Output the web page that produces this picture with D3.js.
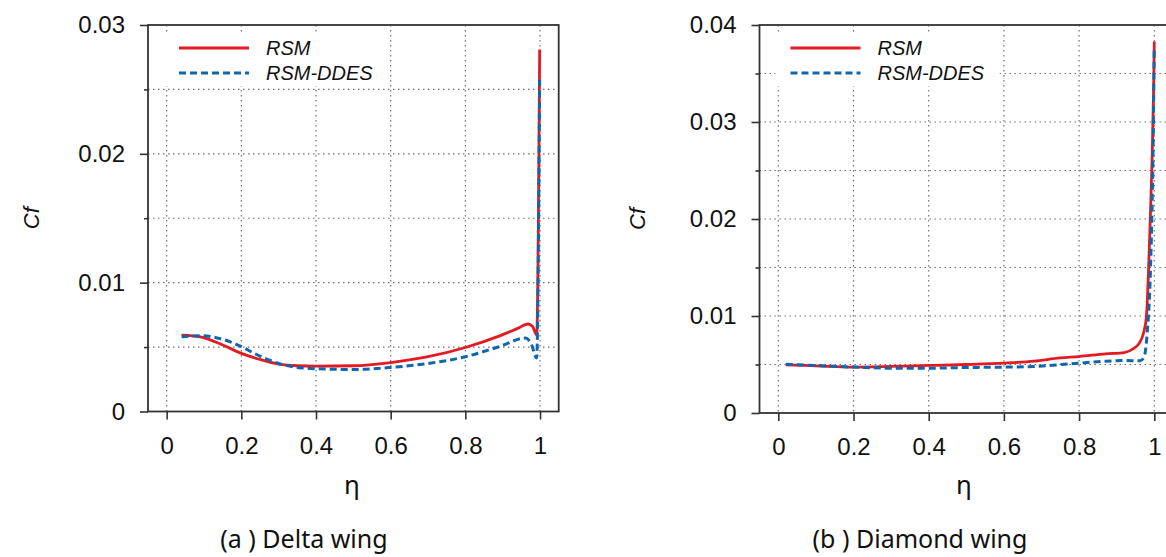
<!DOCTYPE html>
<html>
<head>
<meta charset="utf-8">
<script src="https://cdn.jsdelivr.net/npm/d3@7"></script>
<style>
  html, body { margin: 0; padding: 0; background: #fff; }
  svg { display: block; }
</style>
</head>
<body>
<svg id="chart" width="1166" height="557"></svg>
<script>
// ---------------- DATA ----------------
const seriesNames = ["RSM", "RSM-DDES"];
const xTickValues = [0, 0.2, 0.4, 0.6, 0.8, 1];
const xTickLabels = ["0", "0.2", "0.4", "0.6", "0.8", "1"];
const yTicksA = [0, 0.01, 0.02, 0.03];
const yTickLabelsA = ["0", "0.01", "0.02", "0.03"];
const yTicksB = [0, 0.01, 0.02, 0.03, 0.04];
const yTickLabelsB = ["0", "0.01", "0.02", "0.03", "0.04"];
const captions = ["(a ) Delta wing", "(b ) Diamond wing"];

// (a) Delta wing
const etaA_RSM = [0.04, 0.09, 0.15, 0.2, 0.25, 0.3, 0.35, 0.4, 0.5, 0.6, 0.7, 0.8, 0.89, 0.94, 0.968, 0.98, 0.991, 0.999];
const cfA_RSM  = [0.00593, 0.0058, 0.00516, 0.00451, 0.00404, 0.00368, 0.00355, 0.00352, 0.00355, 0.0038, 0.00425, 0.00497, 0.00585, 0.00645, 0.00679, 0.0066, 0.00594, 0.0281];
const etaA_DDES = [0.04, 0.09, 0.13, 0.17, 0.2, 0.25, 0.3, 0.35, 0.4, 0.5, 0.6, 0.7, 0.8, 0.89, 0.962, 0.977, 0.991, 0.999];
const cfA_DDES  = [0.0058, 0.00588, 0.00575, 0.00541, 0.00503, 0.0043, 0.00373, 0.00342, 0.00332, 0.00326, 0.00342, 0.00373, 0.00425, 0.00503, 0.0057, 0.0052, 0.00415, 0.026];

// (b) Diamond wing
const etaB_RSM = [0.02, 0.1, 0.2, 0.3, 0.4, 0.5, 0.6, 0.68, 0.75, 0.8, 0.87, 0.92, 0.945, 0.96, 0.971, 0.979, 0.984, 0.989, 0.994, 0.998, 1.0];
const cfB_RSM  = [0.00497, 0.00486, 0.00473, 0.0048, 0.0049, 0.005, 0.00514, 0.00534, 0.00568, 0.00582, 0.0061, 0.00623, 0.00665, 0.0072, 0.0082, 0.0099, 0.014, 0.0197, 0.026, 0.033, 0.0383];
const etaB_DDES = [0.02, 0.1, 0.2, 0.3, 0.4, 0.5, 0.6, 0.68, 0.73, 0.8, 0.87, 0.92, 0.962, 0.973, 0.981, 0.99, 0.996, 1.0];
const cfB_DDES  = [0.00503, 0.0049, 0.00473, 0.00462, 0.00462, 0.00469, 0.00473, 0.0048, 0.00493, 0.00514, 0.00534, 0.00541, 0.00538, 0.0058, 0.0082, 0.015, 0.0254, 0.0378];

// ---------------- DRAW ----------------
const svg = d3.select("#chart");
const RED = "#e31a22", BLUE = "#0f66b0";
const AXIS_FONT = "'Liberation Sans', Arial, Helvetica, sans-serif";
const CAP_FONT = "'Noto Sans', 'Open Sans', sans-serif";

function zip(xs, ys) { return xs.map((x, i) => ({x, y: ys[i]})); }

function panel(cfg) {
  const x = d3.scaleLinear().domain([-0.05, 1.05]).range([cfg.left, cfg.right]);
  const y = d3.scaleLinear().domain([0, cfg.yMax]).range([cfg.bottom, cfg.top]);
  const g = svg.append("g");
  const clipId = "clip" + cfg.id;
  svg.append("clipPath").attr("id", clipId).append("rect")
    .attr("x", cfg.left).attr("y", cfg.top)
    .attr("width", cfg.right - cfg.left).attr("height", cfg.bottom - cfg.top);

  // grid
  const gridY = d3.range(0, cfg.yMax + 1e-9, 0.005);
  const grid = g.append("g").attr("stroke", "#707070").attr("stroke-width", 1.2)
    .attr("stroke-dasharray", "1.5,3.5").attr("clip-path", `url(#${clipId})`);
  grid.selectAll("line.h").data(gridY.filter(v => v > 0 && v < cfg.yMax)).join("line")
    .attr("x1", cfg.left).attr("x2", cfg.right)
    .attr("y1", d => y(d)).attr("y2", d => y(d));
  grid.selectAll("line.v").data(xTickValues).join("line")
    .attr("x1", d => x(d)).attr("x2", d => x(d))
    .attr("y1", cfg.top).attr("y2", cfg.bottom);

  // legend background
  g.append("rect").attr("x", cfg.left + 16).attr("y", cfg.top + 10)
    .attr("width", 224).attr("height", 51).attr("fill", "#fff");

  // axes
  const yMinor = gridY.filter(v => !cfg.yTicks.some(t => Math.abs(t - v) < 1e-9));
  const yAxis = d3.axisLeft(y).tickValues(cfg.yTicks).tickSize(8).tickPadding(15)
    .tickFormat((d, i) => cfg.yLabels[i]);
  const yAxisMinor = d3.axisLeft(y).tickValues(yMinor).tickSize(4).tickFormat("");
  const xAxis = d3.axisBottom(x).tickValues(xTickValues).tickSize(8).tickPadding(17)
    .tickFormat((d, i) => xTickLabels[i]);

  const ga = g.append("g").attr("transform", `translate(${cfg.left},0)`).call(yAxis);
  const gam = g.append("g").attr("transform", `translate(${cfg.left},0)`).call(yAxisMinor);
  const gx = g.append("g").attr("transform", `translate(0,${cfg.bottom})`).call(xAxis);
  [ga, gam, gx].forEach(a => {
    a.select(".domain").remove();
    a.selectAll("line").attr("stroke", "#333").attr("stroke-width", 1.6);
    a.selectAll("text").attr("font-family", AXIS_FONT).attr("font-size", 24).attr("fill", "#111");
  });

  // frame
  g.append("rect").attr("x", cfg.left).attr("y", cfg.top)
    .attr("width", cfg.right - cfg.left).attr("height", cfg.bottom - cfg.top)
    .attr("fill", "none").attr("stroke", "#333").attr("stroke-width", 1.8);

  // lines
  const line = d3.line().x(d => x(d.x)).y(d => y(d.y)).curve(d3.curveMonotoneX);
  const lg = g.append("g").attr("clip-path", `url(#${clipId})`).attr("fill", "none");
  lg.append("path").attr("d", line(zip(cfg.etaR, cfg.cfR)))
    .attr("stroke", RED).attr("stroke-width", 2.8).attr("stroke-linejoin", "round");
  lg.append("path").attr("d", line(zip(cfg.etaD, cfg.cfD)))
    .attr("stroke", BLUE).attr("stroke-width", 3).attr("stroke-dasharray", "7,4");

  // legend
  const lx0 = cfg.left + 31, lx1 = cfg.left + 101;
  const rows = [{name: seriesNames[0], c: RED, dash: null, yy: cfg.top + 23},
                {name: seriesNames[1], c: BLUE, dash: "7,4", yy: cfg.top + 48}];
  rows.forEach(r => {
    g.append("line").attr("x1", lx0).attr("x2", lx1).attr("y1", r.yy).attr("y2", r.yy)
      .attr("stroke", r.c).attr("stroke-width", r.dash ? 3 : 2.8)
      .attr("stroke-dasharray", r.dash);
    g.append("text").attr("x", lx1 + 17).attr("y", r.yy + 7)
      .attr("font-family", AXIS_FONT).attr("font-style", "italic").attr("font-size", 20)
      .attr("fill", "#111").text(r.name);
  });

  // axis titles
  g.append("text").attr("transform", `translate(${cfg.cfX},${(cfg.top + cfg.bottom) / 2}) rotate(-90)`)
    .attr("text-anchor", "middle").attr("dy", "0.35em")
    .attr("font-family", AXIS_FONT).attr("font-style", "italic").attr("font-size", 22)
    .attr("fill", "#111").text("Cf");
  g.append("text").attr("x", cfg.etaX).attr("y", 494).attr("text-anchor", "middle")
    .attr("font-family", CAP_FONT).attr("font-size", 26).attr("fill", "#111").text("η");
  g.append("text").attr("x", cfg.capX).attr("y", 548).attr("text-anchor", "middle")
    .attr("font-family", CAP_FONT).attr("font-size", 25).attr("fill", "#111").text(cfg.caption);
}

panel({id: "a", left: 148, right: 558.7, top: 25, bottom: 411.5, yMax: 0.03,
       yTicks: yTicksA, yLabels: yTickLabelsA,
       etaR: etaA_RSM, cfR: cfA_RSM, etaD: etaA_DDES, cfD: cfA_DDES,
       cfX: 31, etaX: 352, capX: 304, caption: captions[0]});
panel({id: "b", left: 759.5, right: 1173.1, top: 25, bottom: 413, yMax: 0.04,
       yTicks: yTicksB, yLabels: yTickLabelsB,
       etaR: etaB_RSM, cfR: cfB_RSM, etaD: etaB_DDES, cfD: cfB_DDES,
       cfX: 637, etaX: 964, capX: 920, caption: captions[1]});
</script>
</body>
</html>
